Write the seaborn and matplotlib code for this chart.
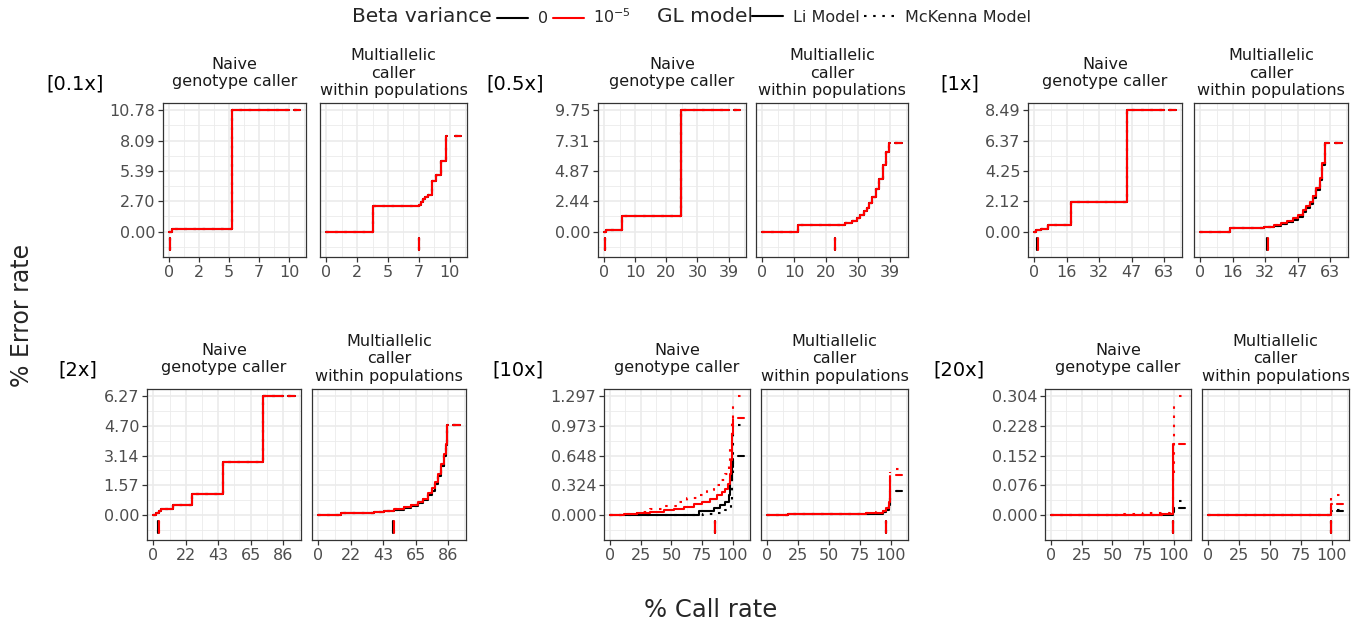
import matplotlib
matplotlib.use("Agg")
import matplotlib.pyplot as plt
import seaborn as sns
import pandas as pd
import numpy as np
from matplotlib.lines import Line2D
from matplotlib.ticker import FixedLocator

# ---------------- data ----------------
COVERAGES = ["[0.1x]", "[0.5x]", "[1x]", "[2x]", "[10x]", "[20x]"]
CALLERS = ["Naive\ngenotype caller", "Multiallelic\ncaller\nwithin populations"]
BETA = ["0", "1e-5"]
MODELS = ["Li Model", "McKenna Model"]

YMAX = [10.78, 9.75, 8.49, 6.27, 1.297, 0.304]
XMAX = [9.9, 39.4, 63.2, 86.4, 100, 100]
YTICKLABELS = [
    ["0.00", "2.70", "5.39", "8.09", "10.78"],
    ["0.00", "2.44", "4.87", "7.31", "9.75"],
    ["0.00", "2.12", "4.25", "6.37", "8.49"],
    ["0.00", "1.57", "3.14", "4.70", "6.27"],
    ["0.000", "0.324", "0.648", "0.973", "1.297"],
    ["0.000", "0.076", "0.152", "0.228", "0.304"],
]
XTICKLABELS = [
    ["0", "2", "5", "7", "10"],
    ["0", "10", "20", "30", "39"],
    ["0", "16", "32", "47", "63"],
    ["0", "22", "43", "65", "86"],
    ["0", "25", "50", "75", "100"],
    ["0", "25", "50", "75", "100"],
]

# ---- step curves (% call rate, % error rate) ----
# 0.1x
X01_NAIVE = [0, 0.22, 5.22, 9.9]
Y01_NAIVE = [0, 0.24, 10.78, 10.78]
X01_MULTI = [0, 3.72, 7.46, 7.59, 7.78, 7.95, 8.14, 8.49, 8.82, 9.17, 9.63, 9.71]
Y01_MULTI = [0, 2.25, 2.40, 2.64, 2.90, 3.10, 3.29, 4.49, 5.00, 6.29, 8.53, 8.53]
# 0.5x
X05_NAIVE = [0, 0.63, 5.55, 24.4, 39.4]
Y05_NAIVE = [0, 0.14, 1.22, 9.75, 9.75]
X05_MULTI = [0, 11.06, 22.3, 25.5, 27.6, 29.2, 30.2, 31.3, 32.3, 32.9, 33.9, 35.0, 36.0, 37.1, 38.1, 39.0, 39.4]
Y05_MULTI = [0, 0.49, 0.55, 0.68, 0.87, 1.08, 1.35, 1.63, 1.90, 2.30, 2.79, 3.39, 4.20, 5.34, 6.36, 7.12, 7.12]
# 1x
X1_NAIVE = [0, 0.82, 3.3, 6.5, 18.0, 45.0, 63.2]
Y1_NAIVE = [0, 0.08, 0.17, 0.47, 2.08, 8.49, 8.49]
X1_MULTI = [0, 14.4, 30.9, 35.9, 39.2, 42.5, 45.0, 47.5, 50.0, 51.6, 53.3, 54.9, 56.6, 58.2, 59.5, 61.0, 62.7]
Y1_MULTI_RED = [0, 0.24, 0.35, 0.47, 0.59, 0.75, 0.94, 1.18, 1.49, 1.77, 2.05, 2.48, 3.07, 3.77, 4.83, 6.20, 6.20]
Y1_MULTI_BLACK = [0, 0.24, 0.30, 0.40, 0.50, 0.64, 0.82, 1.05, 1.35, 1.62, 1.90, 2.32, 2.90, 3.60, 4.65, 6.20, 6.20]
# 2x
X2_NAIVE = [0, 1.8, 3.6, 5.2, 6.8, 13.1, 25.5, 46.5, 72.9, 86.4]
Y2_NAIVE = [0, 0.12, 0.23, 0.30, 0.33, 0.52, 1.12, 2.81, 6.27, 6.27]
X2_MULTI = [0, 15.2, 36.8, 43.7, 50.5, 57.3, 61.8, 66.4, 69.8, 73.2, 75.5, 77.8, 80.0, 81.9, 83.5, 85.0, 86.0, 86.4]
Y2_MULTI_RED = [0, 0.12, 0.17, 0.23, 0.30, 0.40, 0.52, 0.70, 0.87, 1.14, 1.40, 1.75, 2.18, 2.71, 3.23, 3.75, 4.77, 4.77]
Y2_MULTI_BLACK = [0, 0.12, 0.15, 0.20, 0.26, 0.35, 0.46, 0.62, 0.78, 1.03, 1.28, 1.62, 2.05, 2.58, 3.12, 3.68, 4.77, 4.77]
# 10x naive
X10N_RED_LI = [0, 10.9, 21.8, 32.7, 43.6, 51.8, 59.9, 68.1, 74.9, 81.7, 87.2, 91.3, 94.0, 95.9, 97.5, 98.6, 99.5, 100]
Y10N_RED_LI = [0, 0.007, 0.018, 0.033, 0.051, 0.069, 0.090, 0.119, 0.145, 0.177, 0.217, 0.253, 0.289, 0.343, 0.452, 0.596, 0.885, 1.05]
X10N_RED_MK = [0, 10.9, 21.8, 32.7, 43.6, 54.5, 62.7, 70.8, 79.0, 84.5, 89.9, 94.0, 96.7, 98.1, 99.5, 100]
Y10N_RED_MK = [0, 0.014, 0.033, 0.061, 0.098, 0.145, 0.181, 0.217, 0.271, 0.325, 0.379, 0.452, 0.560, 0.741, 1.030, 1.247]
X10N_BLK_LI = [0, 72.2, 84.5, 89.9, 94.0, 96.7, 98.1, 99.5, 100]
Y10N_BLK_LI = [0.003, 0.047, 0.072, 0.108, 0.145, 0.217, 0.379, 0.524, 0.614]
X10N_BLK_MK = [0, 60, 76, 86, 91.3, 94, 96.7, 98.3, 99.5, 100]
Y10N_BLK_MK = [0, 0.004, 0.008, 0.022, 0.032, 0.05, 0.072, 0.15, 0.40, 0.95]
# 10x multiallelic
X10M = [0, 17.2, 60, 80, 88.3, 93.9, 96.5, 98.4, 99.2, 99.7]
Y10M_RED_LI = [0, 0.012, 0.014, 0.018, 0.025, 0.043, 0.072, 0.144, 0.325, 0.426]
Y10M_RED_MK = [0, 0.013, 0.016, 0.020, 0.028, 0.047, 0.078, 0.160, 0.360, 0.470]
Y10M_BLK_LI = [0, 0.010, 0.011, 0.013, 0.016, 0.030, 0.060, 0.110, 0.190, 0.260]
Y10M_BLK_MK = [0, 0.010, 0.012, 0.014, 0.018, 0.034, 0.066, 0.120, 0.210, 0.264]
# 20x naive
X20N_RED_LI = [0, 60, 90, 96.4, 99.0, 99.6, 100]
Y20N_RED_LI = [0, 0.001, 0.002, 0.003, 0.006, 0.182, 0.182]
X20N_RED_MK = [0, 55, 75, 90, 97, 99.3, 99.6, 99.8, 100]
Y20N_RED_MK = [0, 0.003, 0.004, 0.005, 0.008, 0.020, 0.100, 0.250, 0.292]
X20N_BLK = [0, 90, 99, 99.6, 100]
Y20N_BLK_LI = [0, 0.001, 0.003, 0.008, 0.015]
Y20N_BLK_MK = [0, 0.002, 0.005, 0.015, 0.030]
# 20x multiallelic
X20M = [0, 20, 99.2, 99.6, 100]
Y20M_RED_LI = [0, 0.0006, 0.001, 0.029, 0.029]
Y20M_RED_MK = [0, 0.0006, 0.0012, 0.050, 0.050]
Y20M_BLK_LI = [0, 0.0004, 0.001, 0.010, 0.010]
Y20M_BLK_MK = [0, 0.0005, 0.001, 0.012, 0.012]

# final error rate (right-hand dashes), order: 0/Li, 0/McKenna, 1e-5/Li, 1e-5/McKenna
END = [
    [[10.78, 10.78, 10.78, 10.78], [8.53, 8.53, 8.53, 8.53]],
    [[9.75, 9.75, 9.75, 9.75], [7.12, 7.12, 7.12, 7.12]],
    [[8.49, 8.49, 8.49, 8.49], [6.20, 6.20, 6.20, 6.20]],
    [[6.27, 6.27, 6.27, 6.27], [4.77, 4.77, 4.77, 4.77]],
    [[0.648, 0.98, 1.06, 1.297], [0.264, 0.264, 0.433, 0.497]],
    [[0.018, 0.035, 0.182, 0.304], [0.010, 0.012, 0.029, 0.050]],
]
# call rate marks (short vertical ticks below zero), same order
VTICK = [
    [[0.05, 0.05, 0.05, 0.05], [7.4, 7.4, 7.4, 7.4]],
    [[0.3, 0.3, 0.3, 0.3], [22.3, 22.3, 22.3, 22.3]],
    [[1.0, 1.0, 1.6, 1.6], [32.4, 32.4, 32.8, 32.8]],
    [[3.0, 3.0, 3.4, 3.4], [50.0, 50.0, 50.3, 50.3]],
    [[85.8, 85.8, 85.8, 85.8], [96.5, 96.5, 96.5, 96.5]],
    [[99.6, 99.6, 99.6, 99.6], [99.6, 99.6, 99.6, 99.6]],
]


def same4(x, y):
    return [(x, y), (x, y), (x, y), (x, y)]


# curves per panel, same order as END
SERIES = [
    [same4(X01_NAIVE, Y01_NAIVE), same4(X01_MULTI, Y01_MULTI)],
    [same4(X05_NAIVE, Y05_NAIVE), same4(X05_MULTI, Y05_MULTI)],
    [same4(X1_NAIVE, Y1_NAIVE),
     [(X1_MULTI, Y1_MULTI_BLACK), (X1_MULTI, Y1_MULTI_BLACK), (X1_MULTI, Y1_MULTI_RED), (X1_MULTI, Y1_MULTI_RED)]],
    [same4(X2_NAIVE, Y2_NAIVE),
     [(X2_MULTI, Y2_MULTI_BLACK), (X2_MULTI, Y2_MULTI_BLACK), (X2_MULTI, Y2_MULTI_RED), (X2_MULTI, Y2_MULTI_RED)]],
    [[(X10N_BLK_LI, Y10N_BLK_LI), (X10N_BLK_MK, Y10N_BLK_MK), (X10N_RED_LI, Y10N_RED_LI), (X10N_RED_MK, Y10N_RED_MK)],
     [(X10M, Y10M_BLK_LI), (X10M, Y10M_BLK_MK), (X10M, Y10M_RED_LI), (X10M, Y10M_RED_MK)]],
    [[(X20N_BLK, Y20N_BLK_LI), (X20N_BLK, Y20N_BLK_MK), (X20N_RED_LI, Y20N_RED_LI), (X20N_RED_MK, Y20N_RED_MK)],
     [(X20M, Y20M_BLK_LI), (X20M, Y20M_BLK_MK), (X20M, Y20M_RED_LI), (X20M, Y20M_RED_MK)]],
]

COMBOS = [("0", "Li Model"), ("0", "McKenna Model"), ("1e-5", "Li Model"), ("1e-5", "McKenna Model")]
PALETTE = {"0": "black", "1e-5": "red"}
DASHES = {"Li Model": "", "McKenna Model": (1.2, 3.2)}

# ---------------- layout ----------------
W, H = 1364, 627
sns.set_theme(style="white")
plt.rcParams["font.family"] = ["DejaVu Sans"]
fig = plt.figure(figsize=(W / 100, H / 100), dpi=100)

PANEL_BOXES = [
    [(163, 306), (320, 467)],
    [(598, 746), (756, 908)],
    [(1028, 1182), (1194, 1348)],
    [(147, 301), (312, 466)],
    [(604, 750), (761, 908)],
    [(1045, 1191), (1202, 1349)],
]
ROW_Y = [(103, 257)] * 3 + [(389, 540)] * 3
TITLE_X = [46, 486, 940, 58, 492, 933]
FRAC = np.array([0, 0.25, 0.5, 0.75, 1.0])

for g in range(6):
    M, X = YMAX[g], XMAX[g]
    top, bot = ROW_Y[g]
    for c in range(2):
        x0, x1 = PANEL_BOXES[g][c]
        ax = fig.add_axes([x0 / W, 1 - bot / H, (x1 - x0) / W, (bot - top) / H])
        rows = []
        for k, (b, m) in enumerate(COMBOS):
            xs, ys = SERIES[g][c][k]
            for xi, yi in zip(xs, ys):
                rows.append(dict(x=xi, y=yi, beta=b, model=m, unit=f"{k}curve"))
            e = END[g][c][k]
            for xi in (1.04 * X, 1.09 * X):
                rows.append(dict(x=xi, y=e, beta=b, model=m, unit=f"{k}end"))
            v = VTICK[g][c][k]
            for yi in (-0.05 * M, -0.15 * M):
                rows.append(dict(x=v, y=yi, beta=b, model=m, unit=f"{k}vt"))
        df = pd.DataFrame(rows)
        sns.lineplot(data=df, x="x", y="y", hue="beta", style="model", units="unit",
                     hue_order=BETA, style_order=MODELS, palette=PALETTE, dashes=DASHES,
                     estimator=None, sort=False, drawstyle="steps-post", legend=False,
                     ax=ax, linewidth=1.5)
        ax.set_xlabel("")
        ax.set_ylabel("")
        ax.set_xlim(-0.05 * X, 1.14 * X)
        ax.set_ylim(-0.21 * M, 1.06 * M)
        ax.set_xticks(X * FRAC)
        ax.set_xticklabels(XTICKLABELS[g])
        ax.set_yticks(M * FRAC)
        ax.set_yticklabels(YTICKLABELS[g])
        ax.xaxis.set_minor_locator(FixedLocator(X * np.arange(-1, 10) / 8))
        ax.yaxis.set_minor_locator(FixedLocator(M * np.arange(-2, 10) / 8))
        ax.grid(True, which="minor", color="#EBEBEB", linewidth=0.6)
        ax.grid(True, which="major", color="#EBEBEB", linewidth=1.2)
        ax.set_axisbelow(True)
        ax.tick_params(which="minor", length=0)
        ax.tick_params(which="major", axis="both", length=3.5, width=0.9, color="#333333",
                       labelcolor="#4D4D4D", labelsize=11.5, pad=2, bottom=True, left=(c == 0),
                       labelleft=(c == 0))
        for s in ax.spines.values():
            s.set_color("#333333")
            s.set_linewidth(0.9)
        xc = (x0 + x1) / 2
        fig.text(xc / W, 1 - (top - 30) / H, CALLERS[c], fontsize=11.5, color="#1A1A1A",
                 ha="center", va="center", multialignment="center", linespacing=1.22)
    fig.text(TITLE_X[g] / W, 1 - (top - 19) / H, COVERAGES[g], fontsize=14,
             va="center", ha="left", color="black")

# axis titles
fig.text(22 / W, 1 - 315 / H, "% Error rate", rotation=90, fontsize=17, va="center", ha="center")
fig.text(711 / W, 1 - 610 / H, "% Call rate", fontsize=17.5, va="center", ha="center")

# legend
fig.text(352 / W, 1 - 17 / H, "Beta variance", fontsize=14.5, va="center", ha="left")
h1 = [Line2D([], [], color="black", lw=1.5), Line2D([], [], color="red", lw=1.5)]
fig.legend(handles=h1, labels=["0", "$10^{-5}$"], ncol=2, loc="center left",
           bbox_to_anchor=(497 / W, 1 - 17 / H), frameon=False, fontsize=11.5,
           handlelength=1.95, handletextpad=0.6, columnspacing=0.3, borderpad=0, borderaxespad=0)
fig.text(657 / W, 1 - 17 / H, "GL model", fontsize=14.5, va="center", ha="left")
h2 = [Line2D([], [], color="black", lw=1.5),
      Line2D([], [], color="black", lw=1.5, linestyle=(0, (1.2, 3.2)))]
fig.legend(handles=h2, labels=["Li Model", "McKenna Model"], ncol=2, loc="center left",
           bbox_to_anchor=(752 / W, 1 - 17 / H), frameon=False, fontsize=11.5,
           handlelength=1.95, handletextpad=0.6, columnspacing=0.3, borderpad=0, borderaxespad=0)

fig.savefig("out.png", dpi=100)
